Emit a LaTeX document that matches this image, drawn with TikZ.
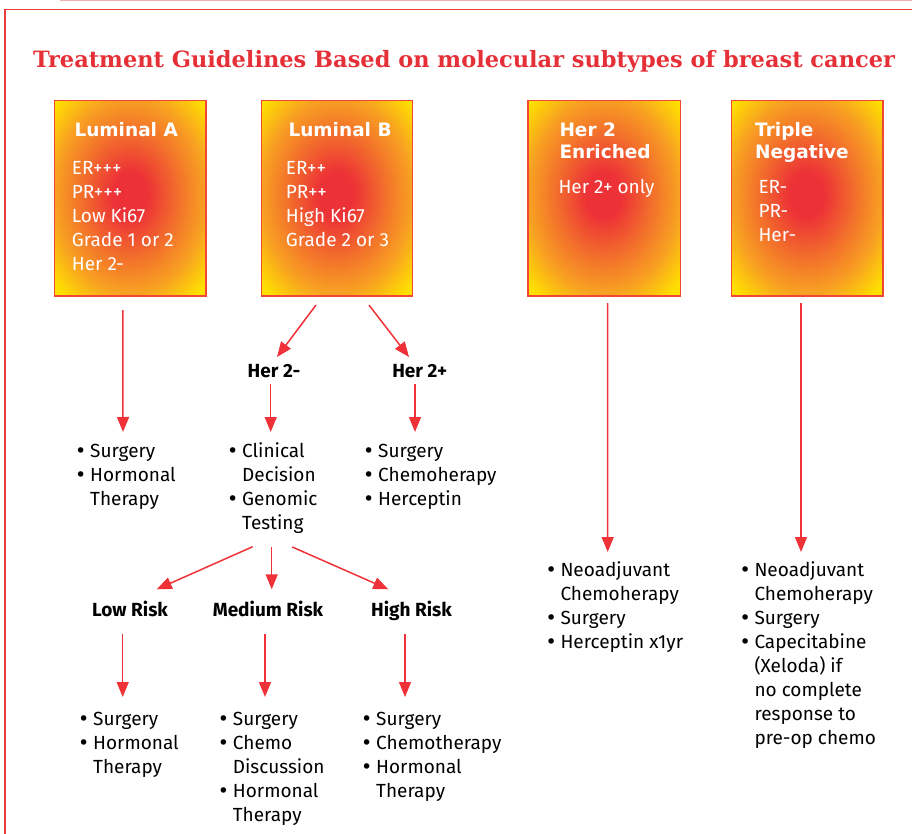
\documentclass[tikz,border=0pt]{standalone}
\usepackage{graphicx}
\usepackage{fontspec}
\setmainfont{Fira Sans}
\newfontfamily\titlefont{DejaVu Serif}
\newfontfamily\headfont{DejaVu Sans}
\newfontfamily\bulfont{DejaVu Sans}
\usetikzlibrary{arrows.meta,calc}
\definecolor{boxred}{RGB}{237,50,55}
\definecolor{boxorange}{RGB}{242,108,44}
\definecolor{boxamber}{RGB}{248,160,34}
\definecolor{boxyellow}{RGB}{255,224,0}
\definecolor{boxedge}{RGB}{240,72,52}
\definecolor{arrred}{RGB}{238,50,55}
\definecolor{titlered}{RGB}{230,48,56}
\definecolor{framered}{RGB}{235,60,60}
\definecolor{framepink}{RGB}{246,175,175}
\newcommand{\bul}{\makebox[12pt][l]{\kern-3pt\bulfont •}}
\newcommand{\gradcolor}[1]{%
  \ifdim #1pt<0.17pt \colorlet{gc}{boxred}%
  \else\ifdim #1pt<0.44pt \pgfmathsetmacro\gp{100*(#1-0.17)/0.27}\colorlet{gc}{boxorange!\gp!boxred}%
  \else\ifdim #1pt<0.70pt \pgfmathsetmacro\gp{100*(#1-0.44)/0.26}\colorlet{gc}{boxamber!\gp!boxorange}%
  \else\ifdim #1pt<0.95pt \pgfmathsetmacro\gp{100*(#1-0.70)/0.25}\colorlet{gc}{boxyellow!\gp!boxamber}%
  \else \colorlet{gc}{boxyellow}\fi\fi\fi\fi}
\newcommand{\gradbox}[1]{%
  \begin{scope}
    \clip (#1.south west) rectangle (#1.north east);
    \foreach \gi in {60,59,...,1}{%
      \pgfmathsetmacro{\gt}{\gi/60}%
      \gradcolor{\gt}%
      \fill[gc] ($(#1.center)+(0,-3)$) ellipse [x radius={\gt*108pt}, y radius={\gt*140pt}];
    }
  \end{scope}
  \draw[boxedge, line width=1.3pt] (#1.south west) rectangle (#1.north east);}
\begin{document}
\begin{tikzpicture}[x=1pt,y=-1pt,
  box/.style={minimum width=151pt, minimum height=195pt, inner sep=0pt},
  boxtitle/.style={text=white, font=\headfont\bfseries\fontsize{18.5}{21.6}\selectfont, anchor=base west, inner sep=0pt},
  boxtext/.style={text=white, font=\fontsize{19}{24}\selectfont, anchor=base west, inner sep=0pt},
  lbl/.style={font=\fontsize{19}{24}\selectfont\bfseries, inner sep=0pt, anchor=base},
  lst/.style={font=\fontsize{19}{24}\selectfont, inner sep=0pt, anchor=base west},
  arr/.style={draw=arrred, line width=1.5pt, -{Triangle[length=15pt,width=12pt]}}]
\useasboundingbox (0,0) rectangle (912,834);
% frame
\draw[framepink, line width=1pt] (60,0.5) -- (912,0.5);
\draw[framered, line width=1.5pt] (912,9.5) -- (5,9.5) -- (5,834);
% title
\node[anchor=base, inner sep=0pt, text=titlered] (title) at (464,68) {\resizebox{862pt}{!}{\titlefont\bfseries\fontsize{23}{28}\selectfont Treatment Guidelines Based on molecular subtypes of breast cancer}};
% boxes
\node[box] (lumA) at (130.35,198.35) {};
\node[box] (lumB) at (337,198.35) {};
\node[box, minimum width=152pt] (her2) at (604.15,198.35) {};
\node[box] (tn) at (807.2,198.35) {};
\gradbox{lumA}
\gradbox{lumB}
\gradbox{her2}
\gradbox{tn}
% box texts
\node[boxtitle] (lumAt) at (74.3,136.7) {Luminal A};
\node[boxtext] (lumAx) at (71.7,175) {\begin{tabular}[t]{@{}l@{}}ER+++\\PR+++\\Low Ki67\\Grade 1 or 2\\Her 2-\end{tabular}};
\node[boxtitle] (lumBt) at (288.3,136.7) {Luminal B};
\node[boxtext] (lumBx) at (285.7,175) {\begin{tabular}[t]{@{}l@{}}ER++\\PR++\\High Ki67\\Grade 2 or 3\end{tabular}};
\node[boxtitle] (her2t) at (559.3,136.7) {\begin{tabular}[t]{@{}l@{}}Her 2\\Enriched\end{tabular}};
\node[boxtext] (her2x) at (558.3,193.3) {Her 2+ only};
\node[boxtitle] (tnt) at (755,136.7) {\begin{tabular}[t]{@{}l@{}}Triple\\Negative\end{tabular}};
\node[boxtext] (tnx) at (758.3,193.3) {\begin{tabular}[t]{@{}l@{}}ER-\\PR-\\Her-\end{tabular}};
% labels
\node[lbl] (her2m) at (274,377.3) {Her 2-};
\node[lbl] (her2p) at (419.7,377.3) {Her 2+};
\node[lbl] (low) at (130,616) {Low Risk};
\node[lbl] (med) at (268,616) {Medium Risk};
\node[lbl] (high) at (411.5,616) {High Risk};
% lists
\node[lst] (lumAlist) at (78,457) {\begin{tabular}[t]{@{}l@{}l@{}}\bul&Surgery\\\bul&Hormonal\\&Therapy\end{tabular}};
\node[lst] (clin) at (230,457) {\begin{tabular}[t]{@{}l@{}l@{}}\bul&Clinical\\&Decision\\\bul&Genomic\\&Testing\end{tabular}};
\node[lst] (her2plist) at (366,457) {\begin{tabular}[t]{@{}l@{}l@{}}\bul&Surgery\\\bul&Chemoherapy\\\bul&Herceptin\end{tabular}};
\node[lst] (lowlist) at (81,725.7) {\begin{tabular}[t]{@{}l@{}l@{}}\bul&Surgery\\\bul&Hormonal\\&Therapy\end{tabular}};
\node[lst] (medlist) at (220.7,725.7) {\begin{tabular}[t]{@{}l@{}l@{}}\bul&Surgery\\\bul&Chemo\\&Discussion\\\bul&Hormonal\\&Therapy\end{tabular}};
\node[lst] (highlist) at (364,725.7) {\begin{tabular}[t]{@{}l@{}l@{}}\bul&Surgery\\\bul&Chemotherapy\\\bul&Hormonal\\&Therapy\end{tabular}};
\node[lst] (her2list) at (548.3,576.7) {\begin{tabular}[t]{@{}l@{}l@{}}\bul&Neoadjuvant\\&Chemoherapy\\\bul&Surgery\\\bul&Herceptin x1yr\end{tabular}};
\node[lst] (tnlist) at (742.3,576.7) {\begin{tabular}[t]{@{}l@{}l@{}}\bul&Neoadjuvant\\&Chemoherapy\\\bul&Surgery\\\bul&Capecitabine\\&(Xeloda) if\\&no complete\\&response to\\&pre-op chemo\end{tabular}};
% arrows
\draw[arr] ($(lumA.south)+(-7.5,14)$) -- ($(lumAlist.base west)+(45,-25)$);
\draw[arr] ($(lumB.south)+(-21,9)$) -- ($(her2m.base)+(3,-20.3)$);
\draw[arr] ($(lumB.south)+(32,9)$) -- ($(her2p.base)+(-10.7,-20.3)$);
\draw[arr] ($(her2m.base)+(-3.3,6.7)$) -- ($(clin.base west)+(40.7,-25)$);
\draw[arr] ($(her2p.base)+(-4.7,6.7)$) -- ($(her2plist.base west)+(49,-25)$);
\draw[arr] ($(clin.base west)+(22.7,89.7)$) -- ($(low.base)+(26.7,-26.7)$);
\draw[arr] ($(clin.base west)+(41.7,89.5)$) -- ($(med.base)+(3.7,-26.7)$);
\draw[arr] ($(clin.base west)+(62.3,90)$) -- ($(high.base)+(-23.2,-26.7)$);
\draw[arr] ($(low.base)+(-7.3,18)$) -- ($(lowlist.base west)+(41.7,-28.7)$);
\draw[arr] ($(med.base)+(-3,18)$) -- ($(medlist.base west)+(44.3,-28.7)$);
\draw[arr] ($(high.base)+(-6.5,18)$) -- ($(highlist.base west)+(41,-28.7)$);
\draw[arr] ($(her2.south)+(3.5,7)$) -- ($(her2list.base west)+(59.4,-24.7)$);
\draw[arr] ($(tn.south)+(-6.2,7)$) -- ($(tnlist.base west)+(58.7,-24.7)$);
\end{tikzpicture}
\end{document}
